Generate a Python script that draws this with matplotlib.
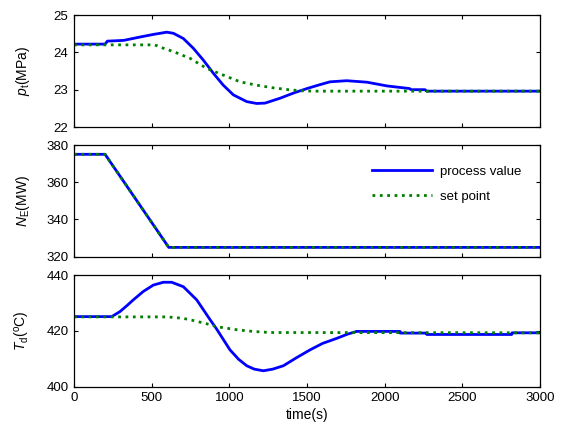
import matplotlib
matplotlib.use("Agg")
import matplotlib.pyplot as plt

plt.rcParams['font.family'] = ['Liberation Sans', 'DejaVu Sans']
plt.rcParams['mathtext.fontset'] = 'custom'
plt.rcParams['mathtext.rm'] = 'Liberation Sans'
plt.rcParams['mathtext.it'] = 'Liberation Sans:italic'

# Panel 1: main steam pressure p_t (MPa)
pt_pv_t = [0, 200, 215, 320, 425, 511, 597, 640, 704, 768, 833, 897, 961, 1026, 1112, 1176, 1230, 1326, 1420, 1500, 1580, 1648, 1755, 1886, 2015, 2160, 2170, 2260, 2270, 3000]
pt_pv_v = [24.22, 24.22, 24.3, 24.32, 24.41, 24.48, 24.54, 24.51, 24.37, 24.11, 23.79, 23.44, 23.12, 22.86, 22.68, 22.63, 22.64, 22.77, 22.92, 23.03, 23.13, 23.21, 23.24, 23.2, 23.1, 23.03, 23.0, 23.0, 22.96, 22.96]
pt_sp_t = [0, 520, 575, 640, 747, 854, 961, 1069, 1176, 1280, 1380, 1460, 1540, 3000]
pt_sp_v = [24.2, 24.2, 24.11, 24.02, 23.84, 23.57, 23.39, 23.21, 23.12, 23.05, 23.0, 22.97, 22.96, 22.96]

# Panel 2: electric power N_E (MW)
ne_t = [0, 200, 610, 3000]
ne_pv_v = [375, 375, 325, 325]
ne_sp_v = [375, 375, 325, 325]

# Panel 3: temperature T_d (degC)
td_pv_t = [0, 243, 296, 340, 382, 446, 511, 575, 629, 704, 790, 876, 920, 1004, 1060, 1112, 1160, 1219, 1280, 1348, 1430, 1520, 1600, 1691, 1760, 1820, 2099, 2100, 2270, 2271, 2818, 2820, 3000]
td_pv_v = [425.1, 425.1, 426.9, 429.0, 431.1, 434.1, 436.4, 437.4, 437.4, 435.8, 431.1, 424.0, 420.5, 413.2, 409.8, 407.5, 406.3, 405.7, 406.3, 407.5, 410.3, 413.2, 415.5, 417.3, 418.8, 419.8, 419.8, 419.2, 419.2, 418.7, 418.7, 419.3, 419.3]
td_sp_t = [0, 600, 700, 768, 850, 919, 1000, 1047, 1150, 1262, 3000]
td_sp_v = [425, 425, 424.5, 423.7, 422.6, 421.5, 420.8, 420.4, 419.8, 419.4, 419.3]

xticks = [0, 500, 1000, 1500, 2000, 2500, 3000]
blue = (0, 0, 1)
green = (0, 0.5, 0)

fig = plt.figure(figsize=(5.64, 4.24), dpi=100)
left, width = 74/564, (540-74)/564
axes_pos = [
    (1-127/424, 112/424),
    (1-256.7/424, 111.7/424),
    (1-386.7/424, 111.7/424),
]
axs = [fig.add_axes([left, b, width, h]) for b, h in axes_pos]

lw = 2.0
axs[0].plot(pt_pv_t, pt_pv_v, color=blue, lw=lw)
axs[0].plot(pt_sp_t, pt_sp_v, color=green, lw=lw, ls=':')
axs[0].set_ylim(22, 25)
axs[0].set_yticks([22, 23, 24, 25])
axs[0].set_ylabel(r'$p_{\rm t}$(MPa)')

axs[1].plot(ne_t, ne_pv_v, color=blue, lw=lw, label='process value')
axs[1].plot(ne_t, ne_sp_v, color=green, lw=lw, ls=':', label='set point')
axs[1].set_ylim(320, 380)
axs[1].set_yticks([320, 340, 360, 380])
axs[1].set_ylabel(r'$N_{\rm E}$(MW)')
axs[1].legend(loc='upper right', frameon=False, fontsize=9.5, bbox_to_anchor=(0.985, 0.92),
              handlelength=4.5, labelspacing=0.95, handletextpad=0.6)

axs[2].plot(td_pv_t, td_pv_v, color=blue, lw=lw)
axs[2].plot(td_sp_t, td_sp_v, color=green, lw=lw, ls=':')
axs[2].set_ylim(400, 440)
axs[2].set_yticks([400, 420, 440])
axs[2].set_ylabel(r'$T_{\rm d}$($^{\rm o}$C)')
axs[2].set_xlabel('time(s)', fontsize=10, labelpad=3)

for i, ax in enumerate(axs):
    ax.set_xlim(0, 3000)
    ax.set_xticks(xticks)
    ax.tick_params(direction='in', top=True, right=True, labelsize=9.5, length=3, width=0.8, pad=4)
    if i < 2:
        ax.set_xticklabels([])
    ax.yaxis.label.set_size(10)
    for s in ax.spines.values():
        s.set_linewidth(0.9)
    ax.yaxis.set_label_coords(-0.09, 0.5)

fig.savefig('out.png', dpi=100)
